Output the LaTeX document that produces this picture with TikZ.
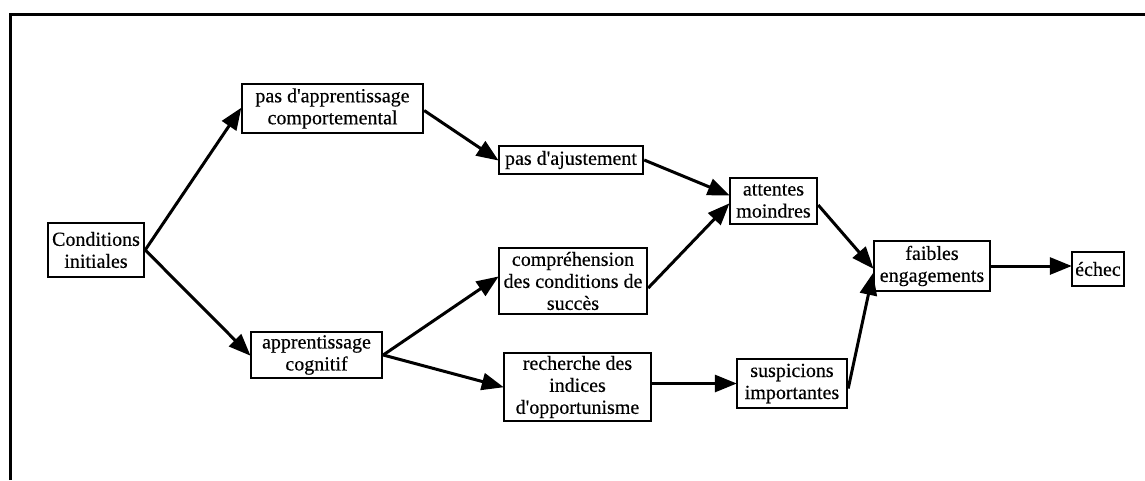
\documentclass[tikz,border=0pt]{standalone}
\usepackage{fontspec}
\setmainfont[FakeBold=0.35]{Liberation Serif}
\usetikzlibrary{arrows.meta}
\newcommand{\apos}{\textquotesingle}
\begin{document}
\begin{tikzpicture}[x=1pt,y=-1pt,
  box/.style={draw, line width=2.4pt, inner sep=0pt, align=center,
    font=\fontsize{20}{22}\selectfont},
  arr/.style={line width=3pt, -{Triangle[length=22pt,width=17pt]}, shorten >=-1pt}]
\useasboundingbox (0,0) rectangle (1145,480);
% frame
\draw[line width=3pt] (10,480) -- (10,14) -- (1145,14);
% boxes
\node[box, minimum width=96pt, minimum height=54pt] (c) at (96,250) {Conditions\\initiales};
\node[box, minimum width=181pt, minimum height=49pt] (pa) at (332.5,108.5) {pas d\apos apprentissage\\comportemental};
\node[box, minimum width=131pt, minimum height=46pt] (ac) at (316.5,355) {apprentissage\\cognitif};
\node[box, minimum width=144pt, minimum height=28pt] (aj) at (571,160) {pas d\apos ajustement};
\node[box, minimum width=148pt, minimum height=66pt] (co) at (573,281) {compréhension\\des conditions de\\succès};
\node[box, minimum width=147pt, minimum height=68pt] (re) at (577.5,387) {recherche des\\indices\\d\apos opportunisme};
\node[box, minimum width=87pt, minimum height=46pt] (at) at (773.5,201) {attentes\\moindres};
\node[box, minimum width=116pt, minimum height=50pt] (fe) at (932,266) {faibles\\engagements};
\node[box, minimum width=52pt, minimum height=34pt] (ec) at (1098,269) {échec};
\node[box, minimum width=110pt, minimum height=49pt] (su) at (792,383.5) {suspicions\\importantes};
% connectors
\draw[arr] (c.east) -- (pa.west);
\draw[arr] (c.east) -- (ac.west);
\draw[arr] ([yshift=-2pt]pa.east) -- (aj.west);
\draw[arr] (aj.east) -- ([yshift=6pt]at.west);
\draw[arr] (ac.east) -- ([yshift=4pt]co.west);
\draw[arr] (ac.east) -- (re.west);
\draw[arr] ([yshift=-7pt]co.east) -- ([yshift=-3pt]at.west);
\draw[arr] (re.east |- su.west) -- (su.west);
\draw[arr] ([yshift=-4pt]at.east) -- ([yshift=-2pt]fe.west);
\draw[arr] ([yshift=-5pt]su.east) -- ([yshift=-8pt]fe.west);
\draw[arr] (fe.east) -- (ec.west |- fe.east);
\end{tikzpicture}
\end{document}
